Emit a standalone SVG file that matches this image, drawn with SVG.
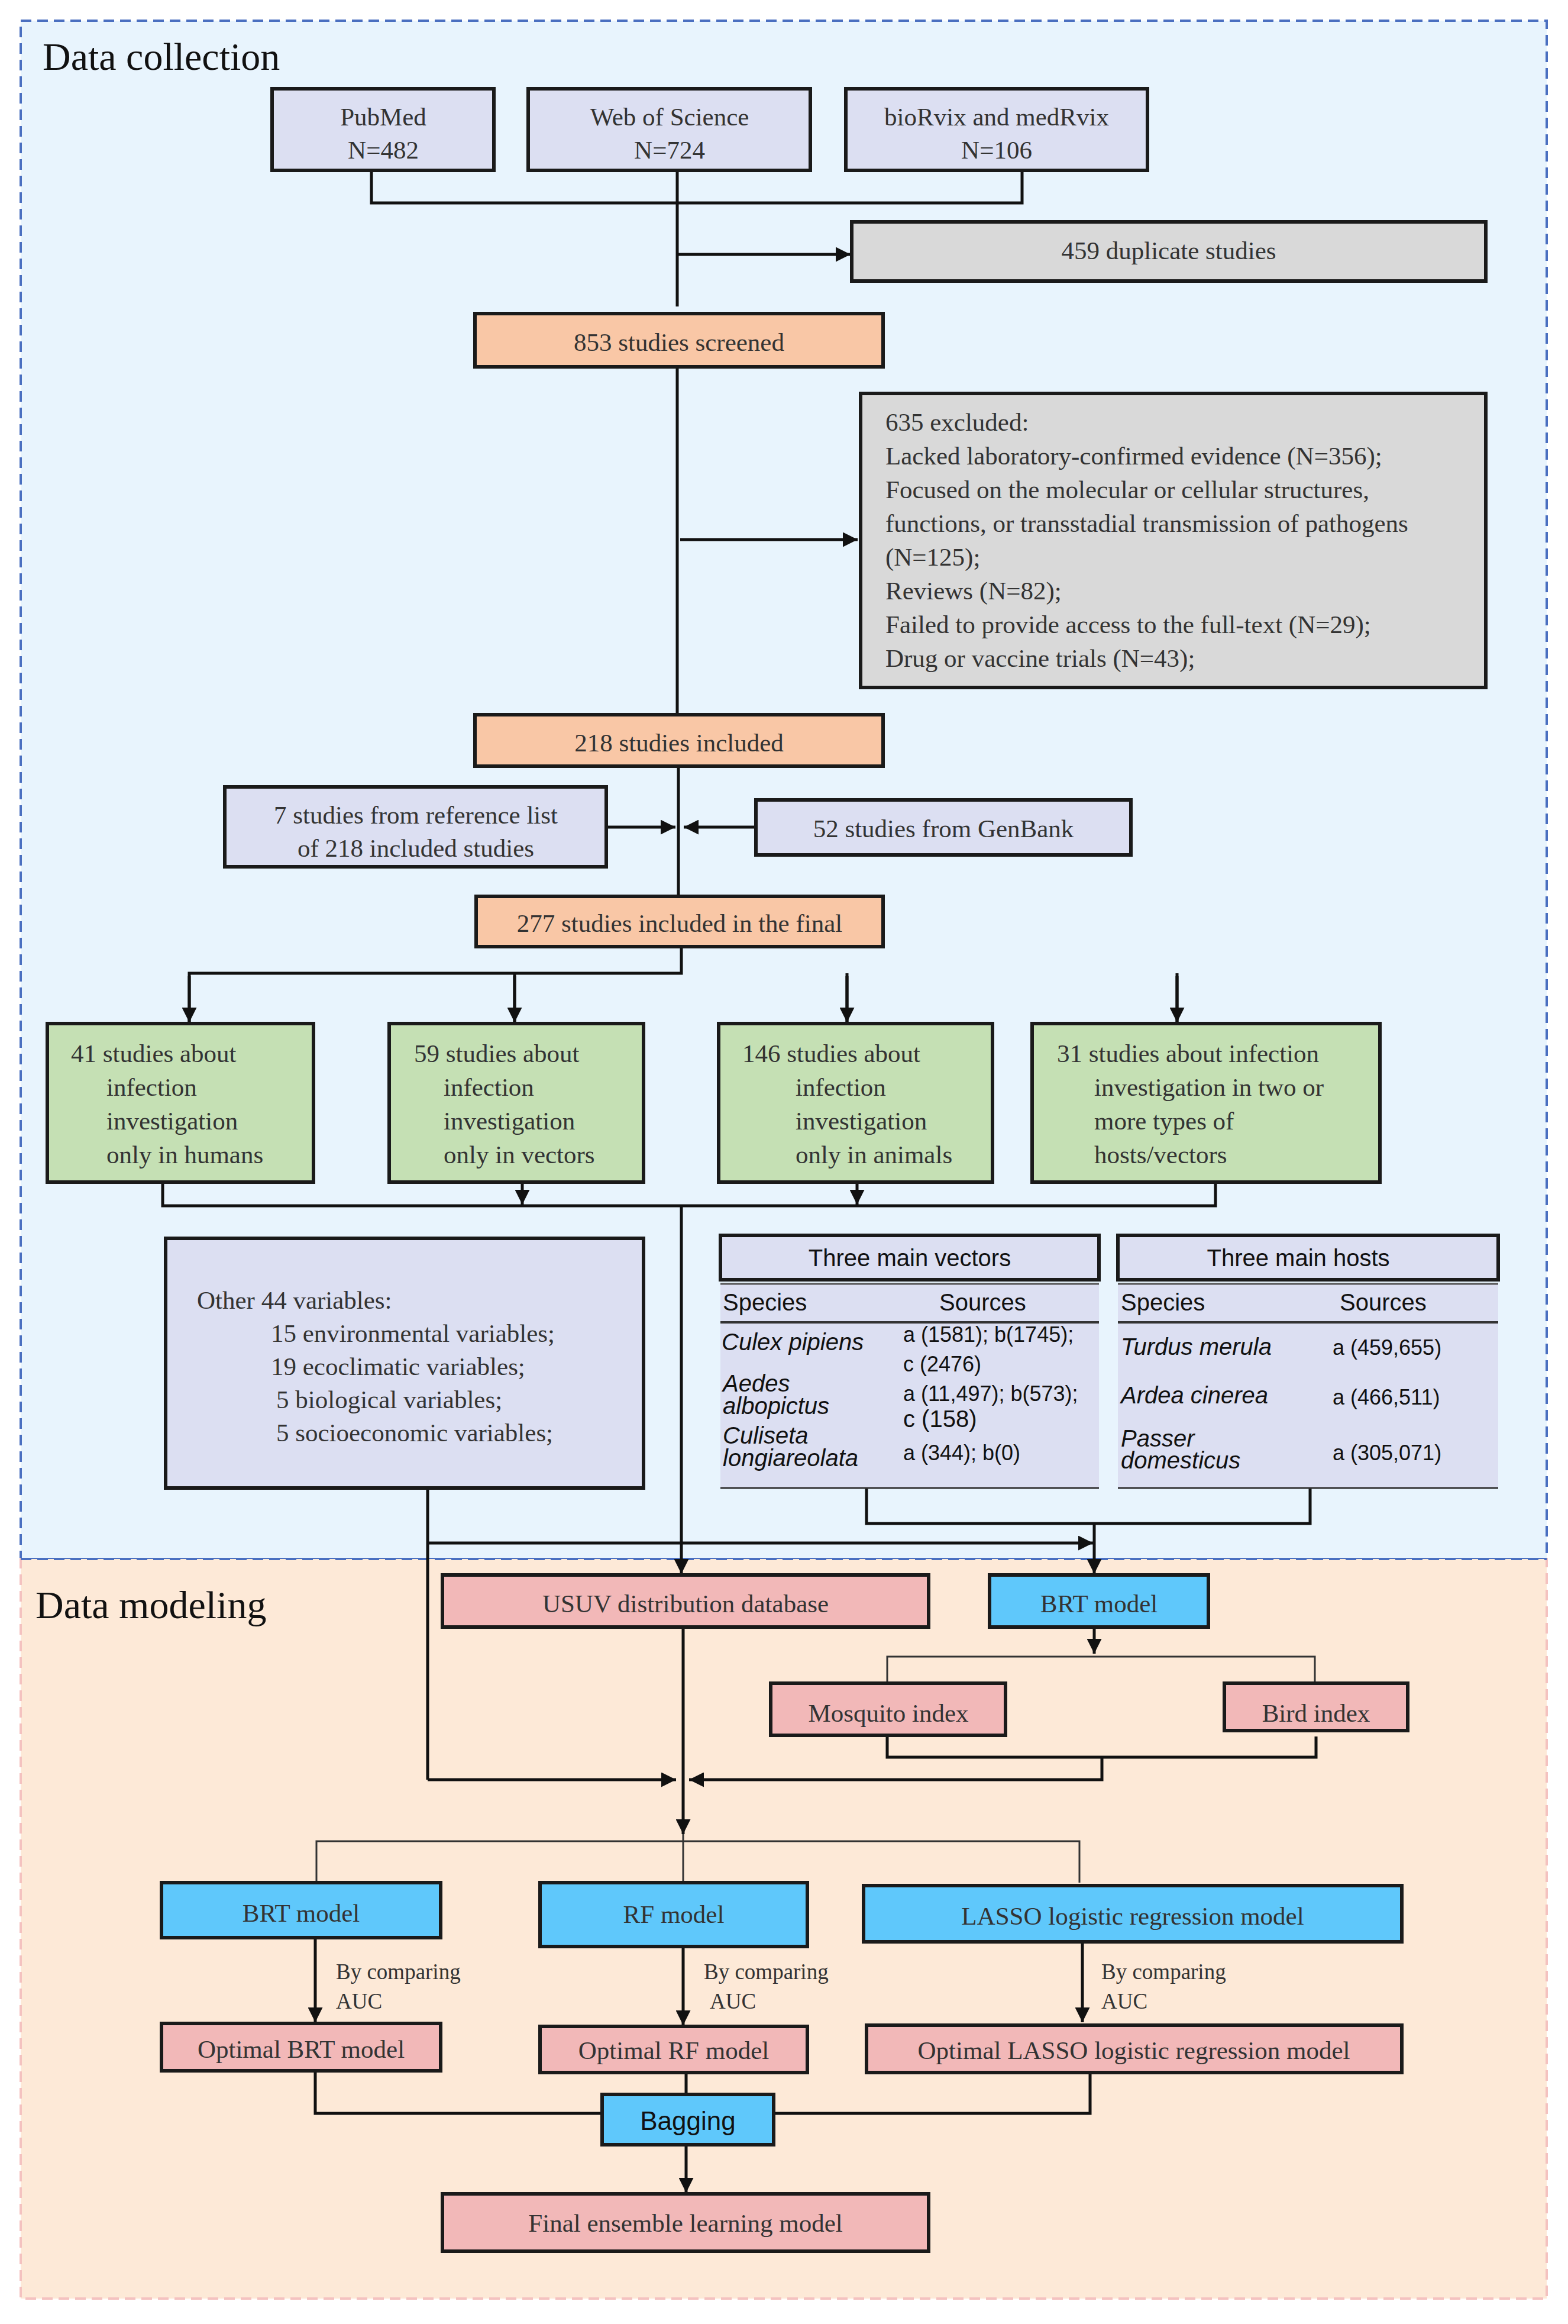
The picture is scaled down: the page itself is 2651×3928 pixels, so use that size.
<svg xmlns="http://www.w3.org/2000/svg" width="2651" height="3928" viewBox="0 0 2651 3928">
<defs>
<style>
.b{stroke:#1a1a1a;stroke-width:6}
.lav{fill:#DCDFF2}.gr{fill:#D9D9D9}.or{fill:#F9C7A6}.gn{fill:#C5E0B4}.bl{fill:#5FC8FB}.pk{fill:#F2B8B8}
text{font-family:"Liberation Serif",serif;font-size:43px;fill:#333}
.s{font-family:"Liberation Sans",Arial,sans-serif;font-size:40px;fill:#111}
.i{font-style:italic}
.c{text-anchor:middle}
.ln{fill:none;stroke:#111;stroke-width:5}
.th{fill:none;stroke:#333;stroke-width:3}
</style>
<marker id="a" viewBox="0 0 10 10" refX="10" refY="5" markerWidth="5" markerHeight="5" orient="auto" markerUnits="strokeWidth"><path d="M0,0L10,5L0,10z" fill="#111"/></marker>
</defs>
<rect x="35" y="35" width="2580" height="2600" fill="#E8F4FD" stroke="#4A6FC0" stroke-width="4" stroke-dasharray="18,10"/>
<rect x="35" y="2635" width="2580" height="1250" fill="#FDE9D7" stroke="#F4C2C0" stroke-width="4" stroke-dasharray="18,10"/>
<line x1="35" y1="2635" x2="2615" y2="2635" stroke="#4A6FC0" stroke-width="4" stroke-dasharray="18,10"/>
<text x="72" y="118" style="font-size:66px;fill:#111">Data collection</text>
<text x="60" y="2735" style="font-size:66px;fill:#111">Data modeling</text>

<g id="connectors">
<path class="ln" d="M628,288V343H1728V288M1145,288V518"/>
<path class="ln" d="M1145,430H1438" marker-end="url(#a)"/>
<path class="ln" d="M1145,620V1205"/>
<path class="ln" d="M1150,912H1450" marker-end="url(#a)"/>
<path class="ln" d="M1147,1295V1513"/>
<path class="ln" d="M1025,1398H1142" marker-end="url(#a)"/>
<path class="ln" d="M1278,1398H1156" marker-end="url(#a)"/>
<path class="ln" d="M1152,1600V1645H320V1728M870,1645V1728M1432,1645V1728M1990,1645V1728" />
<path class="ln" d="M320,1650V1728" marker-end="url(#a)"/>
<path class="ln" d="M870,1650V1728" marker-end="url(#a)"/>
<path class="ln" d="M1432,1650V1728" marker-end="url(#a)"/>
<path class="ln" d="M1990,1650V1728" marker-end="url(#a)"/>
<path class="ln" d="M275,1998V2038H2055V1998"/>
<path class="ln" d="M883,1998V2036" marker-end="url(#a)"/>
<path class="ln" d="M1449,1998V2036" marker-end="url(#a)"/>
<path class="ln" d="M1152,2038V2660" marker-end="url(#a)"/>
<path class="ln" d="M723,2515V3008"/>
<path class="ln" d="M723,2608H1848" marker-end="url(#a)"/>
<path class="ln" d="M1465,2515V2575H2215V2515M1850,2575V2660" marker-end="url(#a)"/>
<path class="ln" d="M1850,2750V2795" marker-end="url(#a)"/>
<path class="th" d="M1500,2845V2800H2223V2845"/>
<path class="ln" d="M1500,2933V2970H2225V2935M1863,2970V3008H1165" marker-end="url(#a)"/>
<path class="ln" d="M723,3008H1143" marker-end="url(#a)"/>
<path class="ln" d="M1155,2750V3100" marker-end="url(#a)"/>
<path class="th" d="M535,3182V3112H1825V3182M1155,3100V3182"/>
<path class="ln" d="M533,3275V3418" marker-end="url(#a)"/>
<path class="ln" d="M1155,3290V3423" marker-end="url(#a)"/>
<path class="ln" d="M1830,3282V3418" marker-end="url(#a)"/>
<path class="ln" d="M533,3500V3572H1018M1843,3500V3572H1308M1160,3500V3540"/>
<path class="ln" d="M1160,3625V3706" marker-end="url(#a)"/>
</g>

<g id="pubmed"><rect class="b lav" x="460" y="150" width="375" height="138"/><text class="c" x="648" y="212">PubMed</text><text class="c" x="648" y="268">N=482</text></g>
<g id="wos"><rect class="b lav" x="893" y="150" width="477" height="138"/><text class="c" x="1132" y="212">Web of Science</text><text class="c" x="1132" y="268">N=724</text></g>
<g id="biorvix"><rect class="b lav" x="1430" y="150" width="510" height="138"/><text class="c" x="1685" y="212">bioRvix and medRvix</text><text class="c" x="1685" y="268">N=106</text></g>
<g id="dup"><rect class="b gr" x="1440" y="375" width="1072" height="100"/><text class="c" x="1976" y="438">459 duplicate studies</text></g>
<g id="screened"><rect class="b or" x="803" y="530" width="690" height="90"/><text class="c" x="1148" y="593">853 studies screened</text></g>
<g id="excluded"><rect class="b gr" x="1455" y="665" width="1057" height="497"/>
<text x="1497" y="728">635 excluded:</text>
<text x="1497" y="785">Lacked laboratory-confirmed evidence (N=356);</text>
<text x="1497" y="842">Focused on the molecular or cellular structures,</text>
<text x="1497" y="899">functions, or transstadial transmission of pathogens</text>
<text x="1497" y="956">(N=125);</text>
<text x="1497" y="1013">Reviews (N=82);</text>
<text x="1497" y="1070">Failed to provide access to the full-text (N=29);</text>
<text x="1497" y="1127">Drug or vaccine trials (N=43);</text></g>
<g id="included"><rect class="b or" x="803" y="1208" width="690" height="87"/><text class="c" x="1148" y="1270">218 studies included</text></g>
<g id="ref"><rect class="b lav" x="380" y="1330" width="645" height="135"/><text class="c" x="703" y="1392">7 studies from reference list</text><text class="c" x="703" y="1448">of 218 included studies</text></g>
<g id="genbank"><rect class="b lav" x="1278" y="1352" width="634" height="93"/><text class="c" x="1595" y="1415">52 studies from GenBank</text></g>
<g id="final277"><rect class="b or" x="805" y="1515" width="688" height="85"/><text class="c" x="1149" y="1575">277 studies included in the final</text></g>
<g id="humans"><rect class="b gn" x="80" y="1730" width="450" height="268"/><text x="120" y="1795">41 studies about</text><text x="180" y="1852">infection</text><text x="180" y="1909">investigation</text><text x="180" y="1966">only in  humans</text></g>
<g id="vectors"><rect class="b gn" x="658" y="1730" width="430" height="268"/><text x="700" y="1795">59 studies about</text><text x="750" y="1852">infection</text><text x="750" y="1909">investigation</text><text x="750" y="1966">only in vectors</text></g>
<g id="animals"><rect class="b gn" x="1215" y="1730" width="463" height="268"/><text x="1255" y="1795">146 studies about</text><text x="1345" y="1852">infection</text><text x="1345" y="1909">investigation</text><text x="1345" y="1966">only in animals</text></g>
<g id="multi"><rect class="b gn" x="1745" y="1730" width="588" height="268"/><text x="1787" y="1795">31 studies about infection</text><text x="1850" y="1852">investigation in two or</text><text x="1850" y="1909">more types of</text><text x="1850" y="1966">hosts/vectors</text></g>
<g id="other44"><rect class="b lav" x="280" y="2093" width="808" height="422"/>
<text x="333" y="2212">Other 44 variables:</text>
<text x="458" y="2268">15 environmental variables;</text>
<text x="458" y="2324">19 ecoclimatic variables;</text>
<text x="467" y="2380">5 biological variables;</text>
<text x="467" y="2436">5 socioeconomic variables;</text></g>
<g id="vtable">
<rect class="b lav" x="1218" y="2088" width="640" height="75"/><text class="s c" x="1538" y="2140">Three main vectors</text>
<rect x="1218" y="2170" width="640" height="345" fill="#DCDFF2"/>
<line x1="1218" y1="2170" x2="1858" y2="2170" stroke="#555" stroke-width="3"/>
<line x1="1218" y1="2235" x2="1858" y2="2235" stroke="#333" stroke-width="4"/>
<line x1="1218" y1="2515" x2="1858" y2="2515" stroke="#333" stroke-width="3"/>
<text class="s" x="1222" y="2215">Species</text><text class="s" x="1588" y="2215">Sources</text>
<text class="s i" x="1220" y="2282">Culex pipiens</text>
<text class="s" x="1527" y="2268" style="font-size:36px">a (1581); b(1745);</text><text class="s" x="1527" y="2318" style="font-size:36px">c (2476)</text>
<text class="s i" x="1222" y="2352">Aedes</text><text class="s i" x="1222" y="2390">albopictus</text>
<text class="s" x="1527" y="2368" style="font-size:36px">a (11,497); b(573);</text><text class="s" x="1527" y="2412">c (158)</text>
<text class="s i" x="1222" y="2440">Culiseta</text><text class="s i" x="1222" y="2478">longiareolata</text>
<text class="s" x="1527" y="2468" style="font-size:36px">a (344); b(0)</text>
</g>
<g id="htable">
<rect class="b lav" x="1890" y="2088" width="643" height="75"/><text class="s c" x="2195" y="2140">Three main hosts</text>
<rect x="1890" y="2170" width="643" height="345" fill="#DCDFF2"/>
<line x1="1890" y1="2170" x2="2533" y2="2170" stroke="#555" stroke-width="3"/>
<line x1="1890" y1="2235" x2="2533" y2="2235" stroke="#333" stroke-width="4"/>
<line x1="1890" y1="2515" x2="2533" y2="2515" stroke="#333" stroke-width="3"/>
<text class="s" x="1895" y="2215">Species</text><text class="s" x="2265" y="2215">Sources</text>
<text class="s i" x="1895" y="2290">Turdus merula</text><text class="s" x="2253" y="2290" style="font-size:36px">a (459,655)</text>
<text class="s i" x="1895" y="2372">Ardea cinerea</text><text class="s" x="2253" y="2374" style="font-size:36px">a (466,511)</text>
<text class="s i" x="1895" y="2445">Passer</text><text class="s i" x="1895" y="2482">domesticus</text><text class="s" x="2253" y="2468" style="font-size:36px">a (305,071)</text>
</g>
<g id="usuv"><rect class="b pk" x="748" y="2662" width="822" height="88"/><text class="c" x="1159" y="2725">USUV distribution database</text></g>
<g id="brt1"><rect class="b bl" x="1673" y="2662" width="370" height="88"/><text class="c" x="1858" y="2725">BRT model</text></g>
<g id="mosq"><rect class="b pk" x="1303" y="2845" width="397" height="88"/><text class="c" x="1502" y="2910">Mosquito index</text></g>
<g id="bird"><rect class="b pk" x="2070" y="2845" width="310" height="80"/><text class="c" x="2225" y="2910">Bird index</text></g>
<g id="brt2"><rect class="b bl" x="273" y="3182" width="472" height="93"/><text class="c" x="509" y="3248">BRT model</text></g>
<g id="rf"><rect class="b bl" x="913" y="3182" width="452" height="108"/><text class="c" x="1139" y="3250">RF model</text></g>
<g id="lasso"><rect class="b bl" x="1460" y="3187" width="910" height="95"/><text class="c" x="1915" y="3253">LASSO logistic regression model</text></g>
<g id="lab1"><text x="568" y="3345" style="font-size:37px">By comparing</text><text x="568" y="3395" style="font-size:37px">AUC</text></g>
<g id="lab2"><text x="1190" y="3345" style="font-size:37px">By comparing</text><text x="1200" y="3395" style="font-size:37px">AUC</text></g>
<g id="lab3"><text x="1862" y="3345" style="font-size:37px">By comparing</text><text x="1862" y="3395" style="font-size:37px">AUC</text></g>
<g id="obrt"><rect class="b pk" x="273" y="3420" width="472" height="80"/><text class="c" x="509" y="3478">Optimal BRT model</text></g>
<g id="orf"><rect class="b pk" x="913" y="3425" width="452" height="78"/><text class="c" x="1139" y="3480">Optimal RF model</text></g>
<g id="olasso"><rect class="b pk" x="1465" y="3423" width="905" height="80"/><text class="c" x="1917" y="3480">Optimal LASSO logistic regression model</text></g>
<g id="bagging"><rect class="b bl" x="1018" y="3540" width="290" height="85"/><text class="s c" x="1163" y="3600" style="font-size:44px">Bagging</text></g>
<g id="final"><rect class="b pk" x="748" y="3708" width="822" height="97"/><text class="c" x="1159" y="3772">Final ensemble learning model</text></g>
</svg>
